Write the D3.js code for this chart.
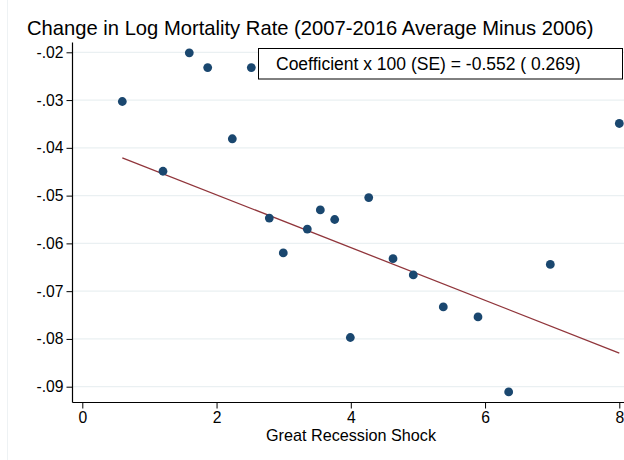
<!DOCTYPE html>
<html>
<head>
<meta charset="utf-8">
<script src="https://cdn.jsdelivr.net/npm/d3@7"></script>
<style>
  html, body { margin: 0; padding: 0; background: #ffffff; }
  svg { display: block; font-family: "Liberation Sans", Arial, Helvetica, sans-serif; }
</style>
</head>
<body>
<svg id="chart" width="624" height="460"></svg>
<script>
// Great Recession shock (x) and change in log mortality rate (y), one point per unit
const shock = [0.596, 1.202, 1.594, 1.868, 2.235, 2.518, 2.786, 2.994, 3.352, 3.546,
               3.760, 3.993, 4.267, 4.629, 4.931, 5.378, 5.895, 6.352, 6.972, 8.000];
const mortalityChange = [-0.0303, -0.0449, -0.0201, -0.0232, -0.0381, -0.0232, -0.0547, -0.0620, -0.0570, -0.0530,
                         -0.0550, -0.0797, -0.0504, -0.0632, -0.0666, -0.0733, -0.0754, -0.0911, -0.0644, -0.0349];

// Fitted line: slope = coefficient / 100
const coefficient = -0.552;
const standardError = 0.269;
const intercept = -0.0388;
const fitRange = [0.596, 8.0];

const xTicks = [0, 2, 4, 6, 8];
const yTicks = [-0.09, -0.08, -0.07, -0.06, -0.05, -0.04, -0.03, -0.02];
const yTickLabels = ["-.09", "-.08", "-.07", "-.06", "-.05", "-.04", "-.03", "-.02"];

const titleText = "Change in Log Mortality Rate (2007-2016 Average Minus 2006)";
const xTitle = "Great Recession Shock";
const noteText = `Coefficient x 100 (SE) = ${coefficient.toFixed(3)} ( ${standardError.toFixed(3)})`;

const svg = d3.select("#chart");

// plot region edges
const plot = { left: 72.5, top: 42.5, bottom: 402.5, right: 626 };

const x = d3.scaleLinear().domain([0, 8]).range([82.3, 619.3]);
const y = d3.scaleLinear().domain([-0.09, -0.02]).range([386.7, 52.3]);

const navy = "#1a476f";
const maroon = "#90353b";
const gridColor = "#eaf0f2";

// faint outer graph-region border
svg.append("line")
  .attr("x1", 7.5).attr("x2", 7.5).attr("y1", 0).attr("y2", 460)
  .attr("stroke", "#eef2f4").attr("stroke-width", 1);

// horizontal grid lines
svg.append("g").selectAll("line")
  .data(yTicks)
  .join("line")
  .attr("x1", plot.left).attr("x2", plot.right)
  .attr("y1", d => y(d)).attr("y2", d => y(d))
  .attr("stroke", gridColor).attr("stroke-width", 1.2);

// y axis
const yAxis = d3.axisLeft(y)
  .tickValues(yTicks)
  .tickFormat((d, i) => yTickLabels[i])
  .tickSize(6)
  .tickSizeOuter(0)
  .tickPadding(3);
const gy = svg.append("g").attr("transform", `translate(${plot.left},0)`).call(yAxis);
gy.select(".domain").remove();
gy.selectAll(".tick line").attr("stroke", "#000").attr("stroke-width", 1);
gy.selectAll(".tick text").attr("font-size", 15.7).attr("fill", "#000")
  .attr("font-family", "Liberation Sans, Arial, sans-serif");

// x axis
const xAxis = d3.axisBottom(x)
  .tickValues(xTicks)
  .tickFormat(d3.format("d"))
  .tickSize(6)
  .tickSizeOuter(0)
  .tickPadding(3);
const gx = svg.append("g").attr("transform", `translate(0,${plot.bottom})`).call(xAxis);
gx.select(".domain").remove();
gx.selectAll(".tick line").attr("stroke", "#000").attr("stroke-width", 1);
gx.selectAll(".tick text").attr("font-size", 15.7).attr("fill", "#000")
  .attr("font-family", "Liberation Sans, Arial, sans-serif");

// axis lines
svg.append("line")
  .attr("x1", plot.left).attr("x2", plot.left)
  .attr("y1", plot.top).attr("y2", plot.bottom)
  .attr("stroke", "#000").attr("stroke-width", 1.2);
svg.append("line")
  .attr("x1", plot.left).attr("x2", plot.right)
  .attr("y1", plot.bottom).attr("y2", plot.bottom)
  .attr("stroke", "#000").attr("stroke-width", 1.2);

// fitted regression line
const fitLine = d3.line()
  .x(d => x(d))
  .y(d => y(intercept + coefficient / 100 * d));
svg.append("path")
  .datum(fitRange)
  .attr("d", fitLine)
  .attr("fill", "none")
  .attr("stroke", maroon)
  .attr("stroke-width", 1.3);

// scatter points
const pts = shock.map((s, i) => ({ s, m: mortalityChange[i] }));
svg.append("g").selectAll("circle")
  .data(pts)
  .join("circle")
  .attr("cx", d => x(d.s))
  .attr("cy", d => y(d.m))
  .attr("r", 4.4)
  .attr("fill", navy);

// coefficient note box
const note = svg.append("g");
note.append("rect")
  .attr("x", 258.5).attr("y", 48.5)
  .attr("width", 364).attr("height", 30.5)
  .attr("fill", "#fff").attr("stroke", "#000").attr("stroke-width", 1);
note.append("text")
  .attr("x", 276).attr("y", 70)
  .attr("font-size", 17.5)
  .attr("fill", "#000")
  .text(noteText);

// title
svg.append("text")
  .attr("x", 27).attr("y", 34.5)
  .attr("font-size", 20.2)
  .attr("fill", "#000")
  .text(titleText);

// x-axis title
svg.append("text")
  .attr("x", 351).attr("y", 441)
  .attr("text-anchor", "middle")
  .attr("font-size", 16.2)
  .attr("fill", "#000")
  .text(xTitle);
</script>
</body>
</html>
